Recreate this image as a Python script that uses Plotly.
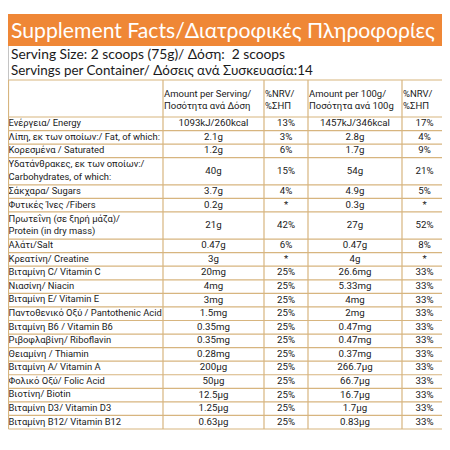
import plotly.graph_objects as go
import numpy as np

# --- data -------------------------------------------------------------
title = "Supplement Facts/Διατροφικές Πληροφορίες"
serving_lines = [
    "Serving Size: 2 scoops (75g)/ Δόση:  2 scoops",
    "Servings per Container/ Δόσεις ανά Συσκευασία:14",
]
headers = [
    "",
    "Amount per Serving/<br>Ποσότητα ανά Δόση",
    "%NRV/<br>%ΣΗΠ",
    "Amount per 100g/<br>Ποσότητα ανά 100g",
    "%NRV/<br>%ΣΗΠ",
]
nutrients = [
    "Ενέργεια/ Energy",
    "Λίπη, εκ των οποίων:/ Fat, of which:",
    "Κορεσμένα / Saturated",
    "Υδατάνθρακες, εκ των οποίων:/<br>Carbohydrates, of which:",
    "Σάκχαρα/ Sugars",
    "Φυτικές Ίνες /Fibers",
    "Πρωτεΐνη (σε ξηρή μάζα)/<br>Protein (in dry mass)",
    "Αλάτι/Salt",
    "Κρεατίνη/ Creatine",
    "Βιταμίνη C/ Vitamin C",
    "Νιασίνη/ Niacin",
    "Βιταμίνη E/ Vitamin E",
    "Παντοθενικό Οξύ / Pantothenic Acid",
    "Βιταμίνη B6 / Vitamin B6",
    "Ριβοφλαβίνη/ Riboflavin",
    "Θειαμίνη / Thiamin",
    "Βιταμίνη A/ Vitamin A",
    "Φολικό Οξύ/ Folic Acid",
    "Βιοτίνη/ Biotin",
    "Βιταμίνη D3/ Vitamin D3",
    "Βιταμίνη B12/ Vitamin B12",
]
per_serving = ["1093kJ/260kcal", "2.1g", "1.2g", "40g", "3.7g", "0.2g", "21g",
               "0.47g", "3g", "20mg", "4mg", "3mg", "1.5mg", "0.35mg", "0.35mg",
               "0.28mg", "200μg", "50μg", "12.5μg", "1.25μg", "0.63μg"]
nrv_serving = ["13%", "3%", "6%", "15%", "4%", "*", "42%", "6%", "*",
               "25%", "25%", "25%", "25%", "25%", "25%", "25%", "25%", "25%",
               "25%", "25%", "25%"]
per_100g = ["1457kJ/346kcal", "2.8g", "1.7g", "54g", "4.9g", "0.3g", "27g",
            "0.47g", "4g", "26.6mg", "5.33mg", "4mg", "2mg", "0.47mg", "0.47mg",
            "0.37mg", "266.7μg", "66.7μg", "16.7μg", "1.7μg", "0.83μg"]
nrv_100g = ["17%", "4%", "9%", "21%", "5%", "*", "52%", "8%", "*",
            "33%", "33%", "33%", "33%", "33%", "33%", "33%", "33%", "33%",
            "33%", "33%", "33%"]

# --- layout geometry (page-pixel data coords; body has an 8px margin) --
ORANGE = "#ef8736"
LINE = "#d7b57f"
TEXT = "#1a1a1a"
CELL_FONT = "Roboto"
PAGE_OFFSET = 8
SIZE = 450 - PAGE_OFFSET

col_edges = [8.5, 163, 264, 308, 402, 447]
table_top, header_bottom, table_bottom = 80, 117, 429

n_lines = np.array([t.count("<br>") + 1 for t in nutrients])
unit = (table_bottom - header_bottom) / n_lines.sum()
row_bottoms = header_bottom + np.cumsum(n_lines) * unit
row_tops = row_bottoms - n_lines * unit
row_mid = (row_tops + row_bottoms) / 2

fig = go.Figure()

# nutrient names, left aligned
fig.add_trace(go.Scatter(
    x=[col_edges[0]] * len(nutrients), y=row_mid, text=nutrients,
    mode="text", textposition="middle right",
    textfont=dict(family=CELL_FONT, size=9.4, color=TEXT),
    hoverinfo="skip",
))

# value columns, centred
for i, col in enumerate([per_serving, nrv_serving, per_100g, nrv_100g], start=1):
    xc = (col_edges[i] + col_edges[i + 1]) / 2
    fig.add_trace(go.Scatter(
        x=[xc] * len(col), y=row_mid, text=col,
        mode="text", textposition="middle center",
        textfont=dict(family=CELL_FONT, size=9.7, color=TEXT),
        hoverinfo="skip",
    ))

# header cells, left aligned
fig.add_trace(go.Scatter(
    x=[e + 1 for e in col_edges[1:5]], y=[(table_top + header_bottom) / 2 + 2] * 4,
    text=headers[1:], mode="text", textposition="middle right",
    textfont=dict(family=CELL_FONT, size=9.5, color=TEXT),
    hoverinfo="skip",
))

shapes = [
    # orange title band and the frame edge beside the serving lines
    dict(type="rect", x0=8, x1=447, y0=14, y1=46, fillcolor=ORANGE, line_width=0, layer="below"),
    dict(type="line", x0=8.5, x1=8.5, y0=46, y1=80, line=dict(color="#c4c4c4", width=1)),
]
for y in [table_top, header_bottom] + list(row_bottoms):
    shapes.append(dict(type="line", x0=col_edges[0], x1=col_edges[-1], y0=y, y1=y,
                       line=dict(color=LINE, width=1.2)))
for x in col_edges[:-1]:
    shapes.append(dict(type="line", x0=x, x1=x, y0=table_top, y1=table_bottom,
                       line=dict(color=LINE, width=1.2)))

annotations = [
    dict(x=9, y=30, text=title, showarrow=False, xanchor="left", yanchor="middle",
         font=dict(family="Lato, Open Sans", size=21.2, color="white")),
    dict(x=9, y=53, text=serving_lines[0], showarrow=False, xanchor="left", yanchor="middle",
         font=dict(family="Lato, Open Sans", size=13.8, color=TEXT)),
    dict(x=9, y=70, text=serving_lines[1], showarrow=False, xanchor="left", yanchor="middle",
         font=dict(family="Lato, Open Sans", size=13.4, color=TEXT)),
]

fig.update_layout(
    width=SIZE, height=SIZE,
    margin=dict(l=0, r=0, t=0, b=0),
    paper_bgcolor="white", plot_bgcolor="white",
    showlegend=False,
    shapes=shapes, annotations=annotations,
    xaxis=dict(range=[PAGE_OFFSET, 450], visible=False, fixedrange=True),
    yaxis=dict(range=[450, PAGE_OFFSET], visible=False, fixedrange=True),
)

fig.write_html("out.html")
